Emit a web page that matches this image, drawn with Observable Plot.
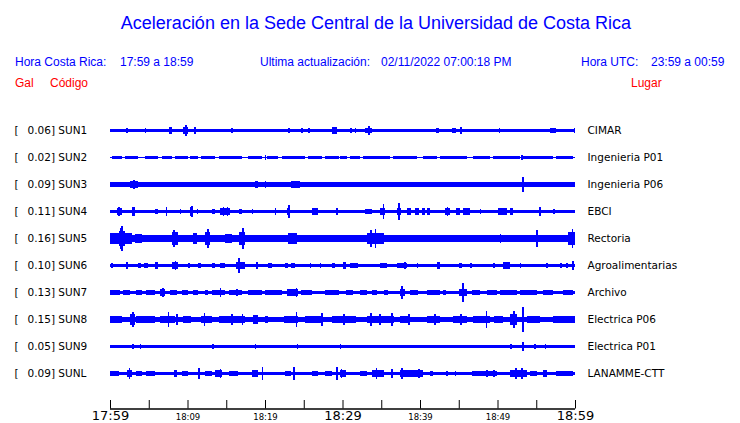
<!DOCTYPE html>
<html><head><meta charset="utf-8">
<script src="https://cdn.jsdelivr.net/npm/d3@7"></script>
<script src="https://cdn.jsdelivr.net/npm/@observablehq/plot@0.6"></script>
<style>
body{margin:0;background:#fff;}
#wrap{position:relative;width:740px;height:423px;overflow:hidden;background:#fff;}
.h{position:absolute;font-family:"Liberation Sans",Arial,sans-serif;white-space:pre;line-height:1;}
.b{color:#0000ff;font-size:12px;}
.r{color:#ff0000;font-size:12px;}
#chart{position:absolute;left:0;top:100px;}
#axis{position:absolute;left:0;top:395px;}
</style></head><body>
<div id="wrap">
  <div class="h" style="left:0;width:752px;top:14px;font-size:18px;text-align:center;color:#0000ff">Aceleración en la Sede Central de la Universidad de Costa Rica</div>
  <div class="h b" style="left:15px;top:56px">Hora Costa Rica:</div>
  <div class="h b" style="left:120px;top:56px">17:59 a 18:59</div>
  <div class="h b" style="left:260px;top:56px">Ultima actualización:</div>
  <div class="h b" style="left:381px;top:56px">02/11/2022 07:00:18 PM</div>
  <div class="h b" style="left:581px;top:56px">Hora UTC:</div>
  <div class="h b" style="left:651px;top:56px">23:59 a 00:59</div>
  <div class="h r" style="left:15px;top:77px">Gal</div>
  <div class="h r" style="left:50px;top:77px">Código</div>
  <div class="h r" style="left:631px;top:77px">Lugar</div>
  <div id="chart"></div>
  <div id="axis"></div>
</div>
<script>
// Station codes, peak acceleration (Gal) and place names
const stations = ["SUN1","SUN2","SUN3","SUN4","SUN5","SUN6","SUN7","SUN8","SUN9","SUNL"];
const peakGal = [0.06,0.02,0.09,0.11,0.16,0.10,0.13,0.15,0.05,0.09];
const places = ["CIMAR","Ingenieria P01","Ingenieria P06","EBCI","Rectoria","Agroalimentarias","Archivo","Electrica P06","Electrica P01","LANAMME-CTT"];

// Trace envelopes, minutes after 17:59.
// [start, end, halfAmplitudeGal] = sustained band, [minute, halfAmplitudeGal] = single spike
const sun1 = [[0,60,0.017],[2.1,0.034],[4.5,0.034],[6.45,0.022],[6.9,0.022],[7.6,8.0,0.047],[9.46,10.02,0.043],[9.72,0.073],[10.88,0.043],[14.0,14.4,0.022],[14.6,14.9,0.022],[15.7,0.026],[19.6,0.022],[20.4,0.022],[23.0,0.026],[24.7,0.03],[25.6,0.034],[28.6,29.25,0.043],[31.0,0.026],[31.6,0.026],[32.9,33.8,0.038],[33.34,0.06],[38.3,0.021],[42.0,42.45,0.034],[44.1,44.65,0.034],[45.2,0.043],[50.2,0.03],[53.8,0.021],[54.6,0.021],[56.8,57.6,0.034],[59.85,60,0.03]];
const sun2 = [[0,60,0.006],[0.2,1.5,0.013],[1.9,3.65,0.013],[4.5,6.2,0.013],[6.7,8.0,0.013],[8.4,10.1,0.013],[10.3,11.4,0.013],[11.8,13.55,0.013],[14.0,17.0,0.013],[17.85,19.6,0.013],[20.2,21.7,0.013],[22.15,25.2,0.013],[25.6,27.3,0.013],[27.75,29.5,0.013],[29.68,30.54,0.013],[30.97,32.26,0.013],[32.69,36.13,0.013],[36.56,39.57,0.013],[40.43,42.15,0.013],[42.58,46.02,0.013],[46.88,49.03,0.013],[49.46,52.9,0.013],[53.33,57.2,0.013],[57.6,59.8,0.013],[20.0,0.026],[53.1,0.03],[59.4,59.8,0.021]];
const sun3 = [[0,60,0.029],[0,0.65,0.034],[2.6,3.65,0.04],[3.0,0.06],[4.95,0.036],[7.3,7.75,0.034],[10.75,11.2,0.036],[15.05,0.036],[18.7,19.1,0.04],[20.0,0.05],[23.4,24.5,0.042],[29.5,30.75,0.034],[34.0,35.3,0.036],[37.9,39.1,0.036],[43.0,0.034],[45.6,0.038],[51.6,52.0,0.034],[52.9,53.8,0.036],[53.2,0.094],[55.5,56.2,0.034],[56.6,57.2,0.034],[59.4,0.038]];
const sun4 = [[0,60,0.021],[0.9,1.5,0.05],[1.1,0.06],[2.8,3.2,0.06],[5.8,6.2,0.038],[7.2,0.064],[9.0,0.038],[10.3,10.75,0.06],[10.5,0.068],[11.2,0.038],[13.1,13.55,0.038],[14.2,15.5,0.04],[14.6,0.06],[15.1,0.055],[16.6,17.0,0.038],[18.3,0.034],[21.3,0.043],[22.8,23.2,0.04],[23.0,0.077],[26.0,26.9,0.04],[29.25,0.043],[32.9,33.8,0.034],[34.9,35.5,0.043],[35.2,0.094],[37.0,37.5,0.05],[37.2,0.107],[38.3,38.9,0.043],[39.3,39.9,0.043],[40.2,40.6,0.04],[40.9,41.3,0.04],[43.2,43.9,0.05],[43.5,0.06],[44.7,45.2,0.043],[45.6,46.5,0.04],[47.75,0.034],[50.1,51.2,0.05],[51.6,52.0,0.043],[55.4,0.055],[57.2,0.026]];
const sun5 = [[0,60,0.041],[0,1.1,0.066],[1.1,1.9,0.094],[1.3,0.13],[1.5,0.158],[1.9,2.8,0.066],[3.2,4.1,0.058],[5.8,6.9,0.051],[7.95,8.8,0.08],[8.17,0.115],[10.75,11.2,0.066],[12.3,12.9,0.08],[12.56,0.128],[14.8,15.7,0.058],[16.6,17.4,0.08],[17.07,0.137],[17.85,18.7,0.051],[23.0,24.1,0.072],[25.2,26.45,0.051],[27.3,30.3,0.045],[33.1,35.3,0.066],[33.6,0.111],[34.2,0.12],[36.1,40.4,0.051],[44.3,46.0,0.051],[50.3,0.06],[55.05,0.111],[57.2,58.5,0.051],[59.05,60,0.088],[59.6,0.128]];
const sun6 = [[0,60,0.019],[0.2,0.034],[2.15,0.043],[3.65,4.0,0.034],[4.4,4.95,0.034],[5.8,6.2,0.047],[7.95,8.8,0.043],[8.4,0.064],[10.1,0.034],[11.4,11.8,0.034],[13.1,13.55,0.034],[14.2,14.8,0.034],[16.3,17.4,0.05],[16.55,0.094],[18.9,0.043],[20.4,20.9,0.034],[22.6,23.0,0.034],[23.4,23.9,0.034],[25.8,0.03],[27.1,0.034],[28.6,29.0,0.038],[30.1,30.5,0.043],[31.0,32.0,0.038],[34.8,35.7,0.03],[37.0,38.3,0.038],[38.0,0.05],[39.6,0.03],[42.2,42.6,0.043],[45.0,45.4,0.034],[46.5,0.034],[49.5,0.038],[50.75,51.6,0.043],[52.9,0.034],[56.3,0.03],[58.1,0.03],[58.9,0.03],[59.7,0.055]];
const sun7 = [[0,60,0.021],[0,1.3,0.034],[1.7,2.6,0.03],[3.4,4.1,0.027],[4.7,5.8,0.03],[6.45,7.1,0.045],[6.75,0.064],[7.75,8.6,0.03],[9.25,10.1,0.034],[10.75,11.4,0.03],[12.3,12.7,0.027],[13.1,14.8,0.034],[14.2,0.06],[15.3,17.0,0.034],[16.35,0.05],[17.85,19.6,0.027],[20.0,22.15,0.027],[22.8,24.3,0.04],[24.0,0.055],[24.7,26.0,0.03],[27.75,29.5,0.03],[30.5,31.4,0.034],[32.3,33.1,0.034],[33.8,34.4,0.03],[35.3,35.9,0.027],[37.4,38.07,0.04],[37.6,0.085],[38.7,39.8,0.03],[40.9,42.6,0.027],[43.0,43.4,0.034],[45.0,46.0,0.05],[45.5,0.12],[46.7,47.75,0.034],[48.6,49.9,0.027],[50.3,52.5,0.027],[52.9,55.05,0.03],[55.9,57.2,0.03],[58.5,59.8,0.03]];
const sun8 = [[0,60,0.037],[0,1.5,0.051],[2.6,3.2,0.066],[2.9,0.094],[3.4,5.8,0.048],[6.5,8.4,0.048],[7.5,0.094],[8.6,0.068],[9.46,10.5,0.048],[11.8,13.1,0.051],[12.1,0.077],[14.0,17.4,0.048],[15.7,0.073],[17.0,0.068],[18.5,19.1,0.058],[20.0,20.4,0.043],[22.4,24.3,0.051],[24.0,0.094],[25.2,27.3,0.048],[27.3,0.085],[28.6,30.3,0.048],[30.1,0.068],[30.3,31.8,0.048],[33.1,36.6,0.051],[33.6,0.077],[34.8,0.073],[36.35,0.085],[37.4,38.7,0.043],[38.5,0.068],[40.9,42.6,0.048],[41.9,0.068],[44.3,46.0,0.043],[45.25,0.073],[46.9,49.0,0.043],[48.5,0.107],[49.5,50.75,0.051],[51.6,52.5,0.066],[52.05,0.107],[53.2,0.158],[53.8,55.5,0.048],[57.2,60,0.051]];
const sun9 = [[0,60,0.017],[2.9,0.034],[3.87,0.034],[13.2,0.026],[18.7,0.03],[24.1,0.038],[29.65,0.03],[39.36,0.021],[46.45,0.021],[51.7,0.038],[53.2,0.055],[54.8,0.03],[56.1,0.026]];
const sunl = [[0,60,0.021],[0,1.1,0.034],[2.15,2.8,0.05],[2.45,0.068],[3.4,4.1,0.038],[4.7,5.8,0.034],[8.2,8.6,0.043],[9.25,10.1,0.034],[11.4,0.068],[12.3,13.1,0.038],[13.55,14.4,0.05],[14.2,0.06],[15.3,16.55,0.034],[18.3,19.1,0.043],[19.6,0.081],[22.6,23.4,0.038],[23.65,0.085],[26.0,26.9,0.034],[27.75,28.6,0.034],[29.25,0.085],[29.68,30.5,0.043],[29.8,0.055],[32.3,33.1,0.034],[33.8,35.3,0.05],[34.3,0.073],[36.35,0.06],[37.4,40.4,0.05],[37.6,0.068],[39.8,0.064],[41.3,41.7,0.038],[43.45,0.034],[44.5,0.034],[46.7,49.9,0.038],[48.6,0.05],[49.5,0.05],[51.6,53.8,0.05],[52.3,0.068],[53.1,0.068],[54.2,55.05,0.034],[55.9,56.35,0.05],[57.6,59.8,0.034]];

// Time axis (minutes after 17:59)
const tickMinutes = [0,5,10,15,20,25,30,35,40,45,50,55,60];
const labelMinutes = [0,10,20,30,40,50,60];
const tickLabels = ["17:59","18:09","18:19","18:29","18:39","18:49","18:59"];
const majorLabelIdx = [0,3,6];

const BLUE = "#0000ff";
const traces = [sun1,sun2,sun3,sun4,sun5,sun6,sun7,sun8,sun9,sunl];
const blocks = [], spikes = [];
traces.forEach((tr, i) => {
  tr.forEach(e => {
    if (e.length === 3) blocks.push({st: stations[i], m0: e[0], m1: e[1], lo: -e[2], hi: e[2]});
    else spikes.push({st: stations[i], m: e[0], lo: -e[1], hi: e[1]});
  });
});
const rows = stations.map((s, i) => ({st: s, gal: peakGal[i].toFixed(2) + "] " + s, place: places[i]}));

const chart = Plot.plot({
  width: 740, height: 323,
  marginTop: 16.5, marginBottom: 36.5, marginLeft: 110, marginRight: 165,
  style: {fontFamily: "DejaVu Sans", fontSize: "10.5px", background: "white", color: "black", overflow: "visible"},
  x: {domain: [0, 60], axis: null},
  y: {domain: [-0.173, 0.173], axis: null},
  fy: {domain: stations, axis: null, padding: 0},
  marks: [
    Plot.rect(blocks, {x1: "m0", x2: "m1", y1: "lo", y2: "hi", fy: "st", fill: BLUE, shapeRendering: "crispEdges"}),
    Plot.ruleX(spikes, {x: "m", y1: "lo", y2: "hi", fy: "st", stroke: BLUE, strokeWidth: 1.5, shapeRendering: "crispEdges"}),
    Plot.text(rows, {fy: "st", text: d => "[", frameAnchor: "left", dx: -96, textAnchor: "start", fill: "black", fontSize: 10.5}),
    Plot.text(rows, {fy: "st", text: "gal", frameAnchor: "left", dx: -83, textAnchor: "start", fill: "black", fontSize: 10.5}),
    Plot.text(rows, {fy: "st", text: "place", frameAnchor: "right", dx: 12, textAnchor: "start", fill: "black", fontSize: 10.5})
  ]
});
document.getElementById("chart").appendChild(chart);

const labels = labelMinutes.map((m, i) => ({m, label: tickLabels[i], major: majorLabelIdx.includes(i)}));
const axis = Plot.plot({
  width: 740, height: 28,
  marginTop: 5, marginBottom: 14.5, marginLeft: 110, marginRight: 165,
  style: {fontFamily: "DejaVu Sans", background: "transparent", color: "black", overflow: "visible"},
  x: {domain: [0, 60], axis: null},
  y: {domain: [0, 1], axis: null},
  marks: [
    Plot.ruleY([0], {stroke: "black", strokeWidth: 1.3}),
    Plot.ruleX(tickMinutes, {x: d => d, y1: 0, y2: 1, stroke: "black", strokeWidth: 1}),
    Plot.text(labels.filter(d => d.major), {x: "m", text: "label", frameAnchor: "bottom", dy: 10.5, fontSize: 13, fill: "black"}),
    Plot.text(labels.filter(d => !d.major), {x: "m", text: "label", frameAnchor: "bottom", dy: 10.5, fontSize: 8.5, fill: "black"})
  ]
});
document.getElementById("axis").appendChild(axis);
</script>
</body></html>
